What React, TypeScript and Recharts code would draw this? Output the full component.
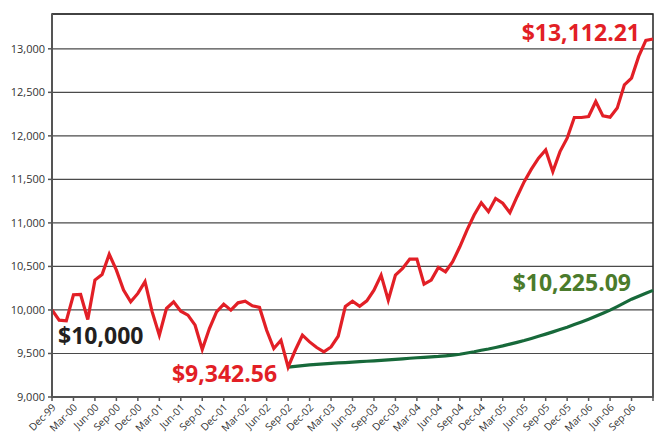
import React from 'react';
import { LineChart, Line, XAxis, YAxis, CartesianGrid, ReferenceDot, ReferenceArea } from 'recharts';

const months = [
  'Dec-99',
  'Jan-00','Feb-00','Mar-00','Apr-00','May-00','Jun-00','Jul-00','Aug-00','Sep-00','Oct-00','Nov-00','Dec-00',
  'Jan-01','Feb-01','Mar-01','Apr-01','May-01','Jun-01','Jul-01','Aug-01','Sep-01','Oct-01','Nov-01','Dec-01',
  'Jan-02','Feb-02','Mar-02','Apr-02','May-02','Jun-02','Jul-02','Aug-02','Sep-02','Oct-02','Nov-02','Dec-02',
  'Jan-03','Feb-03','Mar-03','Apr-03','May-03','Jun-03','Jul-03','Aug-03','Sep-03','Oct-03','Nov-03','Dec-03',
  'Jan-04','Feb-04','Mar-04','Apr-04','May-04','Jun-04','Jul-04','Aug-04','Sep-04','Oct-04','Nov-04','Dec-04',
  'Jan-05','Feb-05','Mar-05','Apr-05','May-05','Jun-05','Jul-05','Aug-05','Sep-05','Oct-05','Nov-05','Dec-05',
  'Jan-06','Feb-06','Mar-06','Apr-06','May-06','Jun-06','Jul-06','Aug-06','Sep-06','Oct-06','Nov-06','Dec-06',
];

const portfolio = [
  10000,
  9883, 9875, 10175, 10178, 9890, 10343, 10408, 10640, 10458, 10228, 10093, 10190,
  10324, 9978, 9710, 10017, 10093, 9986, 9940, 9825, 9545, 9787, 9978, 10067,
  9998, 10082, 10101, 10047, 10029, 9767, 9557, 9652, 9342.56, 9537, 9710, 9633,
  9568, 9518, 9575, 9698, 10040, 10100, 10043, 10105, 10228, 10400, 10113, 10400,
  10477, 10585, 10585, 10297, 10343, 10489, 10439, 10554, 10726, 10918, 11091, 11232,
  11129, 11280, 11226, 11117, 11301, 11474, 11617, 11743, 11839, 11589, 11819, 11973,
  12211, 12211, 12222, 12395, 12230, 12215, 12319, 12587, 12664, 12913, 13097, 13112.21,
];

const guaranteed = [
  9342.56, 9352, 9360, 9368,
  9374, 9380, 9386, 9391, 9396, 9401, 9406, 9411, 9416, 9421, 9427, 9433,
  9439, 9445, 9451, 9456, 9461, 9466, 9473, 9481, 9491, 9505, 9520, 9537,
  9552, 9569, 9587, 9607, 9628, 9649, 9673, 9697, 9722, 9748, 9775, 9802,
  9832, 9862, 9894, 9928, 9962, 9998, 10039, 10081, 10124, 10158, 10192, 10225.09,
];
const guaranteedStart = 'Sep-02';

const yTicks = [9000, 9500, 10000, 10500, 11000, 11500, 12000, 12500, 13000];
const yDomain = [9000, 13400];

const startIdx = months.indexOf(guaranteedStart);
const data = months.map((m, i) => ({
  month: m,
  portfolio: portfolio[i],
  guaranteed: i >= startIdx ? guaranteed[i - startIdx] : null,
}));

const RED = '#e21f26';
const GREEN_LINE = '#17693a';
const GREEN_TEXT = '#4b7b2c';
const FONT = '"Open Sans", "Noto Sans", sans-serif';

const XTick = (props: any) => {
  const { x, y, payload } = props;
  if (payload.value === months[months.length - 1]) return null;
  return (
    <g transform={`translate(${x},${y})`}>
      <text x={0} y={0} dx={-0.5} dy={6.8} textAnchor="end" transform="rotate(-45)"
        fontSize={10.2} fill="#333" fontFamily={FONT}>{payload.value}</text>
    </g>
  );
};

const makeLabel = (text: string, color: string, dx: number, dy: number, anchor: string) => (props: any) => {
  const vb = props.viewBox || {};
  const cx = vb.x + (vb.width || 0) / 2;
  const cy = vb.y + (vb.height || 0) / 2;
  return (
    <text x={cx + dx} y={cy + dy} textAnchor={anchor} fill={color} fontSize={23}
      fontWeight={700} fontFamily={FONT}>{text}</text>
  );
};

export default function App() {
  const last = months[months.length - 1];
  return (
    <div style={{ position: 'absolute', left: 0, top: 0, background: '#fff' }}>
      <LineChart width={658} height={434} data={data}
        margin={{ top: 14, right: 5, left: 0, bottom: 0 }}>
        <CartesianGrid vertical={false} stroke="#4a4a4a" strokeWidth={1.2} />
        <ReferenceArea x1={months[0]} x2={last} y1={yDomain[0]} y2={yDomain[1]}
          fill="none" stroke="#222" strokeWidth={1.5} ifOverflow="visible" />
        <XAxis dataKey="month" interval={2} tick={<XTick />} tickSize={4}
          height={37} axisLine={{ stroke: '#555', strokeWidth: 2 }}
          tickLine={{ stroke: '#555', strokeWidth: 1.5 }} />
        <YAxis type="number" domain={yDomain} ticks={yTicks} width={52} tickSize={4} tickMargin={3}
          allowDataOverflow
          tickFormatter={(v: number) => v.toLocaleString('en-US')}
          tick={{ fontSize: 11, fill: '#333', fontFamily: FONT }}
          axisLine={{ stroke: '#555', strokeWidth: 2 }}
          tickLine={{ stroke: '#555', strokeWidth: 1.5 }} />
        <Line type="linear" dataKey="guaranteed" stroke={GREEN_LINE} strokeWidth={3.2}
          dot={false} isAnimationActive={false} connectNulls={false} />
        <Line type="linear" dataKey="portfolio" stroke={RED} strokeWidth={3.2}
          dot={false} isAnimationActive={false} strokeLinejoin="miter" />
        <ReferenceDot x={last} y={portfolio[portfolio.length - 1]} r={0} fill="none" stroke="none"
          ifOverflow="visible" label={makeLabel('$13,112.21', RED, -13, 1.5, 'end')} />
        <ReferenceDot x={last} y={guaranteed[guaranteed.length - 1]} r={0} fill="none" stroke="none"
          ifOverflow="visible" label={makeLabel('$10,225.09', GREEN_TEXT, -22, 0.5, 'end')} />
        <ReferenceDot x={months[0]} y={portfolio[0]} r={0} fill="none" stroke="none"
          ifOverflow="visible" label={makeLabel('$10,000', '#231f20', 6, 34, 'start')} />
        <ReferenceDot x={guaranteedStart} y={guaranteed[0]} r={0} fill="none" stroke="none"
          ifOverflow="visible" label={makeLabel('$9,342.56', RED, -11, 15, 'end')} />
      </LineChart>
    </div>
  );
}
